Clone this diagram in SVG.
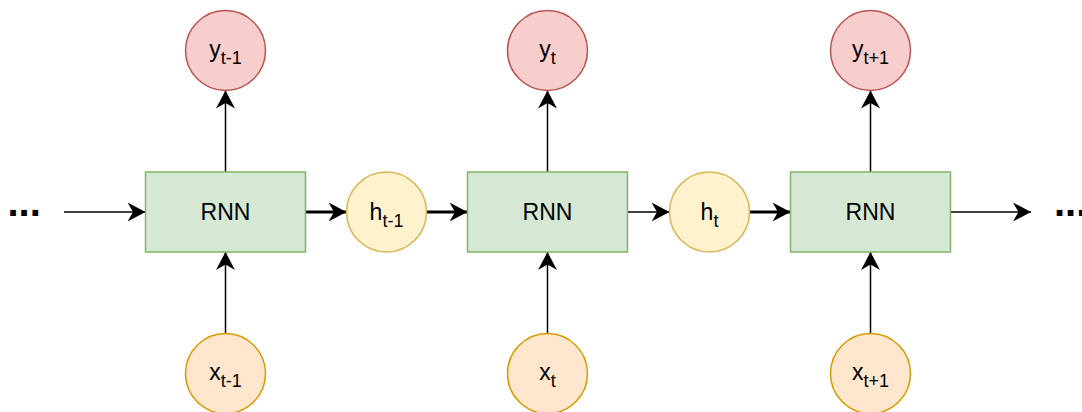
<svg xmlns="http://www.w3.org/2000/svg" width="1082" height="412" viewBox="0 0 1082 412">
  <defs>
    <style>
      text { font-family: "Liberation Sans", Arial, Helvetica, sans-serif; fill: #000; }
      .cell { fill: #d5e8d4; stroke: #82b366; stroke-width: 1.5; }
      .out { fill: #f8cecc; stroke: #b85450; stroke-width: 1.5; }
      .hid { fill: #fff2cc; stroke: #d6b656; stroke-width: 1.5; }
      .inp { fill: #ffe6cc; stroke: #d79b00; stroke-width: 1.5; }
      .lbl { font-size: 23px; text-anchor: middle; }
      .sub { font-size: 18px; }
      .dots { font-size: 40px; font-weight: bold; }
      .edge { fill: none; stroke: #000; stroke-width: 1.5; }
      .edge.bold { stroke-width: 3; }
    </style>
    <marker id="arrow" markerUnits="userSpaceOnUse" markerWidth="19" markerHeight="20" refX="18" refY="10" orient="auto">
      <path d="M0,0.5 L18,10 L0,19.5 L5.5,10 Z" fill="#000"/>
    </marker>
  </defs>

  <!-- connectors -->
  <g id="connectors">
    <line class="edge" x1="64" y1="212" x2="145.5" y2="212" marker-end="url(#arrow)"/>
    <line class="edge bold" x1="305.5" y1="212" x2="346.5" y2="212" marker-end="url(#arrow)"/>
    <line class="edge bold" x1="426.5" y1="212" x2="467.5" y2="212" marker-end="url(#arrow)"/>
    <line class="edge" x1="627.5" y1="212" x2="669.5" y2="212" marker-end="url(#arrow)"/>
    <line class="edge bold" x1="749.5" y1="212" x2="790.5" y2="212" marker-end="url(#arrow)"/>
    <line class="edge" x1="950.5" y1="212" x2="1031" y2="212" marker-end="url(#arrow)"/>

    <line class="edge" x1="225.5" y1="333.5" x2="225.5" y2="252" marker-end="url(#arrow)"/>
    <line class="edge" x1="225.5" y1="172" x2="225.5" y2="90.5" marker-end="url(#arrow)"/>
    <line class="edge" x1="547.5" y1="333.5" x2="547.5" y2="252" marker-end="url(#arrow)"/>
    <line class="edge" x1="547.5" y1="172" x2="547.5" y2="90.5" marker-end="url(#arrow)"/>
    <line class="edge" x1="870.5" y1="333.5" x2="870.5" y2="252" marker-end="url(#arrow)"/>
    <line class="edge" x1="870.5" y1="172" x2="870.5" y2="90.5" marker-end="url(#arrow)"/>
  </g>

  <!-- continuation marks -->
  <g id="dots-left"><text class="dots" x="7.5" y="216">...</text></g>
  <g id="dots-right"><text class="dots" x="1054" y="216">...</text></g>

  <!-- recurrent cells -->
  <g id="rnn-1"><rect class="cell" x="145.5" y="172" width="160" height="80"/><text class="lbl" x="225.5" y="220">RNN</text></g>
  <g id="rnn-2"><rect class="cell" x="467.5" y="172" width="160" height="80"/><text class="lbl" x="547.5" y="220">RNN</text></g>
  <g id="rnn-3"><rect class="cell" x="790.5" y="172" width="160" height="80"/><text class="lbl" x="870.5" y="220">RNN</text></g>

  <!-- hidden states -->
  <g id="h-prev"><circle class="hid" cx="386.5" cy="212" r="40"/><text class="lbl" x="386.5" y="220">h<tspan class="sub" dy="7">t-1</tspan></text></g>
  <g id="h-cur"><circle class="hid" cx="709.5" cy="212" r="40"/><text class="lbl" x="709.5" y="220">h<tspan class="sub" dy="7">t</tspan></text></g>

  <!-- outputs -->
  <g id="y-prev"><circle class="out" cx="225.5" cy="50.5" r="40"/><text class="lbl" x="225.5" y="57">y<tspan class="sub" dy="7">t-1</tspan></text></g>
  <g id="y-cur"><circle class="out" cx="547.5" cy="50.5" r="40"/><text class="lbl" x="547.5" y="57">y<tspan class="sub" dy="7">t</tspan></text></g>
  <g id="y-next"><circle class="out" cx="870.5" cy="50.5" r="40"/><text class="lbl" x="870.5" y="57">y<tspan class="sub" dy="7">t+1</tspan></text></g>

  <!-- inputs -->
  <g id="x-prev"><circle class="inp" cx="225.5" cy="373.5" r="40"/><text class="lbl" x="225.5" y="380">x<tspan class="sub" dy="7">t-1</tspan></text></g>
  <g id="x-cur"><circle class="inp" cx="547.5" cy="373.5" r="40"/><text class="lbl" x="547.5" y="380">x<tspan class="sub" dy="7">t</tspan></text></g>
  <g id="x-next"><circle class="inp" cx="870.5" cy="373.5" r="40"/><text class="lbl" x="870.5" y="380">x<tspan class="sub" dy="7">t+1</tspan></text></g>
</svg>
